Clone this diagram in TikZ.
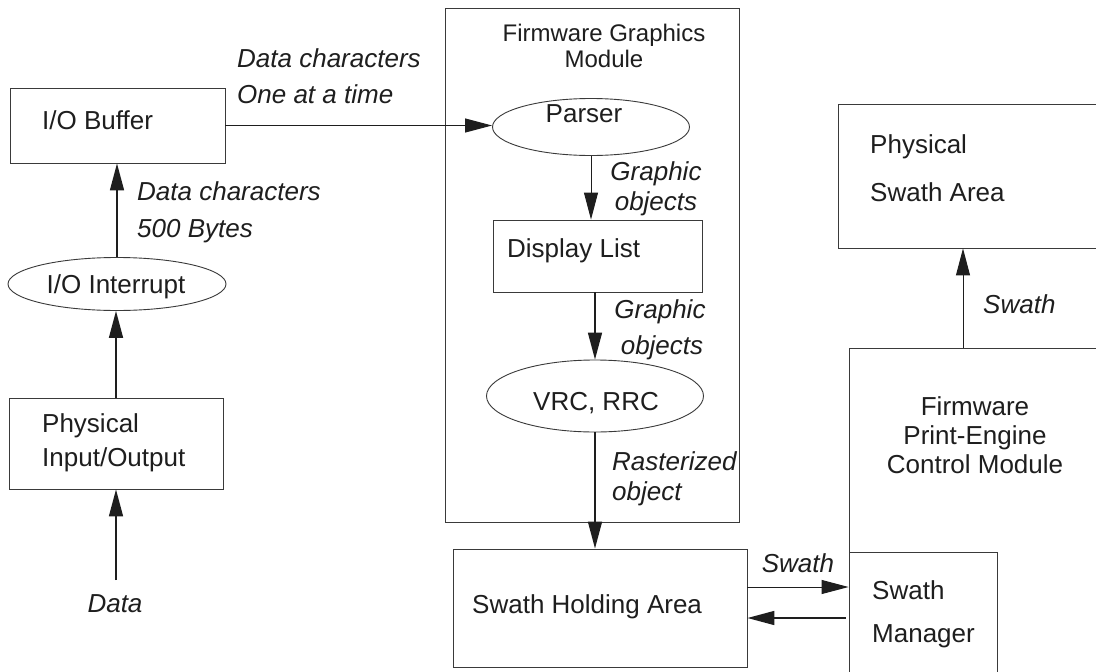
\documentclass[tikz,border=0pt]{standalone}
\usepackage{fontspec}
\setmainfont{Liberation Sans}
\usetikzlibrary{shapes.geometric,arrows.meta}
\definecolor{ln}{HTML}{3A3A3A}
\definecolor{tx}{HTML}{1E1E1E}
\tikzset{
  box/.style={draw=ln, line width=0.9pt, rectangle, inner sep=0pt},
  oval/.style={draw=ln, line width=0.9pt, ellipse, inner sep=0pt},
  txt/.style={text=tx, inner sep=0pt, font=\fontsize{26}{30}\selectfont},
  lbl/.style={text=tx, inner sep=0pt, font=\fontsize{26}{30}\selectfont\itshape},
  ttl/.style={text=tx, inner sep=0pt, font=\fontsize{24}{28}\selectfont},
  arr/.style={draw=tx, line width=1.6pt, -{Triangle[length=27pt,width=14pt]}},
  thinarr/.style={draw=tx, line width=1pt, -{Triangle[length=27pt,width=14pt]}},
}
\begin{document}
\begin{tikzpicture}[x=1pt,y=-1pt]
\clip (0,0) rectangle (1096,672);
\fill[white] (0,0) rectangle (1096,672);

% boxes and ovals
\node[box, minimum width=215, minimum height=75] (iobuf) at (117.5,125.5) {};
\node[oval, minimum width=218, minimum height=53] (ioint) at (117,284) {};
\node[box, minimum width=214, minimum height=91] (phys) at (116,443.5) {};
\node[box, minimum width=294, minimum height=514] (fgm) at (592,265) {};
\node[oval, minimum width=197, minimum height=57] (parser) at (591,127) {};
\node[box, minimum width=209, minimum height=72] (dl) at (597.5,256) {};
\node[oval, minimum width=217, minimum height=72] (vrc) at (595,396) {};
\node[box, minimum width=294, minimum height=118] (hold) at (600,608) {};
\node[box, minimum width=282, minimum height=144] (psa) at (979,176) {};
\node[box, minimum width=271, minimum height=352] (pec) at (984.5,524) {};
\node[box, minimum width=148, minimum height=148, fill=white] (mgr) at (923,626) {};

% texts
\node[txt, anchor=base west] (t1) at (42,129) {I/O Buffer};
\node[txt, anchor=base] (t2) at (116,293) {I/O Interrupt};
\node[txt, anchor=base west] (t3) at (42,432) {Physical};
\node[txt, anchor=base west] (t4) at (42,466) {Input/Output};
\node[ttl, anchor=base] (t5) at (604,41) {Firmware Graphics};
\node[ttl, anchor=base] (t6) at (604,67) {Module};
\node[txt, anchor=base] (t7) at (584,122) {Parser};
\node[txt, anchor=base west] (t8) at (507,257) {Display List};
\node[txt, anchor=base] (t9) at (596,410) {VRC, RRC};
\node[txt, anchor=base west] (t10) at (472,613) {Swath Holding Area};
\node[txt, anchor=base west] (t11) at (872,599) {Swath};
\node[txt, anchor=base west] (t12) at (872,642) {Manager};
\node[txt, anchor=base] (t13) at (975,415) {Firmware};
\node[txt, anchor=base] (t14) at (975,444) {Print-Engine};
\node[txt, anchor=base] (t15) at (975,473) {Control Module};
\node[txt, anchor=base west] (t16) at (870,153) {Physical};
\node[txt, anchor=base west] (t17) at (870,201) {Swath Area};

% labels
\node[lbl, anchor=base west] (l1) at (237,67) {Data characters};
\node[lbl, anchor=base west] (l2) at (237,103) {One at a time};
\node[lbl, anchor=base west] (l3) at (137,200) {Data characters};
\node[lbl, anchor=base west] (l4) at (137,237) {500 Bytes};
\node[lbl, anchor=base] (l5) at (115,612) {Data};
\node[lbl, anchor=base] (l6) at (656,180) {Graphic};
\node[lbl, anchor=base] (l7) at (656,210) {objects};
\node[lbl, anchor=base] (l8) at (660,318) {Graphic};
\node[lbl, anchor=base] (l9) at (662,354) {objects};
\node[lbl, anchor=base west] (l10) at (612,470) {Rasterized};
\node[lbl, anchor=base west] (l11) at (612,500) {object};
\node[lbl, anchor=base] (l12) at (798,572) {Swath};
\node[lbl, anchor=base west] (l13) at (983,313) {Swath};

% connectors
\coordinate (datain) at (116,580);
\draw[arr] (datain) -- (phys.south);
\draw[arr] (phys.north) -- (phys.north |- ioint.south);
\draw[arr] (ioint.north) -- (ioint.north |- iobuf.south);
\draw[thinarr] (iobuf.east) -- (iobuf.east -| parser.west);
\draw[thinarr] (parser.south) -- (parser.south |- dl.north);
\draw[arr] (vrc.north |- dl.south) -- (vrc.north);
\draw[arr] (vrc.south) -- (vrc.south |- hold.north);
\coordinate (hA) at ([yshift=21pt]hold.east);
\coordinate (hB) at ([yshift=-10pt]hold.east);
\draw[thinarr] (hA) -- (hA -| mgr.west);
\draw[arr] ([xshift=-3pt]hB -| mgr.west) -- (hB);
\coordinate (pup) at ([xshift=-21.5pt]pec.north);
\draw[thinarr] (pup) -- (pup |- psa.south);
\end{tikzpicture}
\end{document}
